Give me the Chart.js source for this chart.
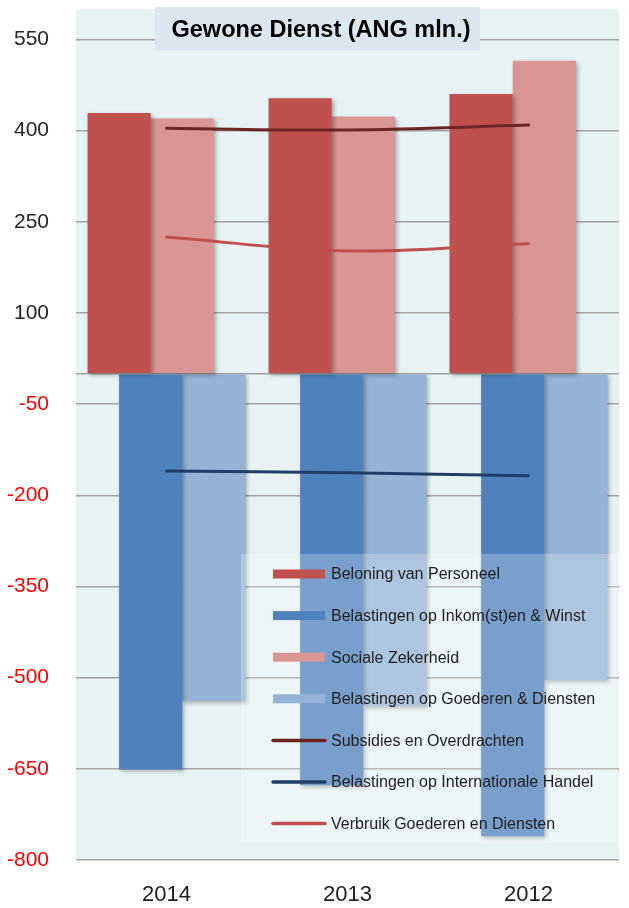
<!DOCTYPE html>
<html>
<head>
<meta charset="utf-8">
<script src="https://cdn.jsdelivr.net/npm/chart.js@4.4.1/dist/chart.umd.min.js"></script>
<style>
  html, body { margin: 0; padding: 0; background: #ffffff; }
  #wrap { width: 629px; height: 908px; position: relative; }
</style>
</head>
<body>
<div id="wrap"><canvas id="gewoneChart"></canvas></div>
<script>
// data (ANG mln.)
const years = ['2014', '2013', '2012'];
const beloning = [429, 453, 460];
const inkomsten = [-651, -677, -761];
const sociale = [420, 423, 515];
const goederen = [-538, -546, -504];
const subsidies = [404, 401, 409];
const internationaleHandel = [-160, -163, -168];
const verbruik = [225, 202, 214];
const yTicks = [-800, -650, -500, -350, -200, -50, 0, 100, 250, 400, 550];

const FONT = "'Liberation Sans', Arial, sans-serif";

// Excel style 50% overlap: 4 slots per category, every bar two slots wide
function barSet(label, data, color) {
    return {
        type: 'bar', label, data,
        backgroundColor: color,
        borderWidth: 0,
        categoryPercentage: 0.698,
        barPercentage: 2,
        order: 2
    };
}
function lineSet(label, data, color) {
    return {
        type: 'line', label, data,
        borderColor: color,
        backgroundColor: color,
        borderWidth: 3,
        borderCapStyle: 'round',
        pointRadius: 0,
        tension: 0.4,
        fill: false,
        order: 1
    };
}

const plotBg = {
    id: 'plotBg',
    beforeDraw(chart) {
        const { ctx, chartArea: a } = chart;
        ctx.save();
        ctx.fillStyle = '#e7f2f5';
        ctx.fillRect(a.left, a.top, a.right - a.left, a.bottom - a.top);
        ctx.restore();
    }
};

const barShadow = {
    id: 'barShadow',
    beforeDatasetDraw(chart, args) {
        if (args.meta.type !== 'bar') return;
        const ctx = chart.ctx;
        ctx.save();
        ctx.shadowColor = 'rgba(0,0,0,0.3)';
        ctx.shadowBlur = 4;
        ctx.shadowOffsetX = 2;
        ctx.shadowOffsetY = 2;
    },
    afterDatasetDraw(chart, args) {
        if (args.meta.type !== 'bar') return;
        chart.ctx.restore();
    }
};

// title box + legend laid over the plot
const overlay = {
    id: 'overlay',
    afterDraw(chart) {
        const ctx = chart.ctx;
        ctx.save();

        ctx.fillStyle = '#dce6f1';
        ctx.fillRect(155, 7, 325, 43);
        ctx.fillStyle = '#000';
        ctx.font = 'bold 23.5px ' + FONT;
        ctx.textAlign = 'center';
        ctx.textBaseline = 'alphabetic';
        ctx.fillText('Gewone Dienst (ANG mln.)', 321, 37);

        ctx.fillStyle = 'rgba(255,255,255,0.24)';
        ctx.fillRect(241, 554, 377, 289);

        ctx.font = '16px ' + FONT;
        ctx.textAlign = 'left';
        ctx.textBaseline = 'middle';
        chart.data.datasets.forEach((ds, i) => {
            const y = 574 + i * 41.6;
            if (ds.type === 'bar') {
                ctx.fillStyle = ds.backgroundColor;
                ctx.fillRect(273, y - 4.5, 52, 9);
            } else {
                ctx.strokeStyle = ds.borderColor;
                ctx.lineWidth = 3.5;
                ctx.lineCap = 'round';
                ctx.beginPath();
                ctx.moveTo(273, y);
                ctx.lineTo(325, y);
                ctx.stroke();
            }
            ctx.fillStyle = '#1e1e1e';
            ctx.fillText(ds.label, 331, y + 1);
        });
        ctx.restore();
    }
};

new Chart(document.getElementById('gewoneChart'), {
    data: {
        labels: years,
        datasets: [
            barSet('Beloning van Personeel', beloning, '#c0504d'),
            barSet('Belastingen op Inkom(st)en & Winst', inkomsten, '#4f81bd'),
            barSet('Sociale Zekerheid', sociale, '#d99694'),
            barSet('Belastingen op Goederen & Diensten', goederen, '#95b3d7'),
            lineSet('Subsidies en Overdrachten', subsidies, '#6a2524'),
            lineSet('Belastingen op Internationale Handel', internationaleHandel, '#213f66'),
            lineSet('Verbruik Goederen en Diensten', verbruik, '#c0504d')
        ]
    },
    options: {
        responsive: true,
        maintainAspectRatio: false,
        animation: false,
        layout: { padding: { top: 9, right: 10, left: 0, bottom: 0 } },
        plugins: {
            legend: { display: false },
            title: { display: false },
            tooltip: { enabled: false }
        },
        scales: {
            x: {
                grid: { display: false, drawTicks: false },
                border: { display: false },
                ticks: {
                    color: '#222',
                    font: { family: FONT, size: 22 },
                    padding: 22
                },
                afterFit(scale) { scale.height = 48; }
            },
            y: {
                min: -800,
                max: 600,
                afterBuildTicks(scale) {
                    scale.ticks = yTicks.map(v => ({ value: v }));
                },
                grid: { color: '#a3a3a3', lineWidth: 1.4, drawTicks: false },
                border: { display: false },
                ticks: {
                    padding: 27,
                    font: { family: FONT, size: 21 },
                    color: (c) => (c.tick && c.tick.value < 0 ? '#ff0000' : '#262626'),
                    callback: (v) => (v === 0 ? '' : v)
                },
                afterFit(scale) {
                    scale.width = 76;
                    scale.paddingTop = 0;
                    scale.paddingBottom = 0;
                }
            }
        }
    },
    plugins: [plotBg, barShadow, overlay]
});
</script>
</body>
</html>
